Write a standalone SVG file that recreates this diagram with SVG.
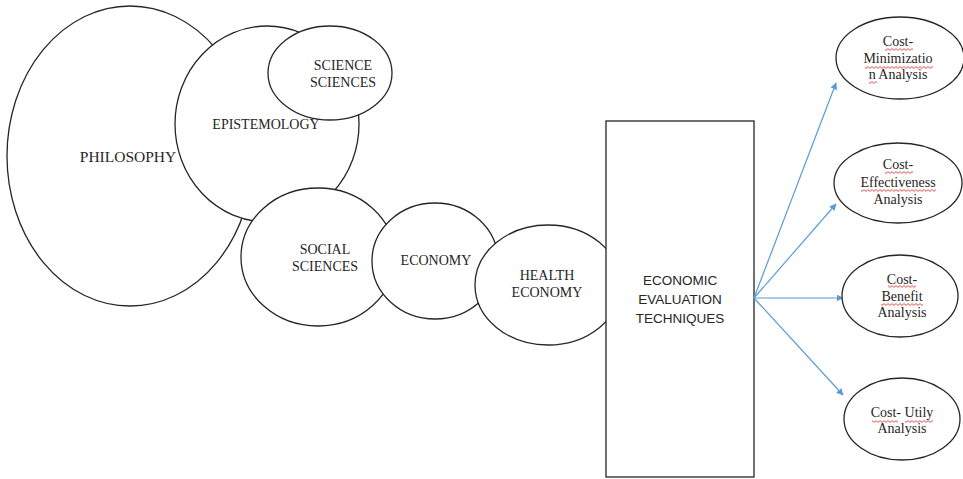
<svg xmlns="http://www.w3.org/2000/svg" width="963" height="479" viewBox="0 0 963 479">
<style>
.n{fill:#fff;stroke:#262626;stroke-width:1.3}
.t{font-family:"Liberation Serif","Times New Roman",serif;font-size:14px;fill:#262626;text-anchor:middle}
.s{font-family:"Liberation Sans",Arial,sans-serif;font-size:13.5px;fill:#262626;text-anchor:middle}
.c{stroke:#5B9BD5;stroke-width:1.2;fill:none;marker-end:url(#ah)}
.sq{fill:url(#zz)}
</style>
<defs>
<marker id="ah" viewBox="0 0 10 10" refX="9" refY="5" markerWidth="7" markerHeight="7" markerUnits="userSpaceOnUse" orient="auto">
<path d="M0 0 L10 5 L0 10 Z" fill="#5B9BD5"/>
</marker>
<pattern id="zz" width="4" height="3" patternUnits="userSpaceOnUse">
<path d="M0 0.6 L2 2.4 L4 0.6" stroke="#e02020" stroke-width="0.8" fill="none"/>
</pattern>
</defs>
<rect width="963" height="479" fill="#fff"/>
<g id="philosophy"><ellipse class="n" cx="130" cy="156" rx="123" ry="150"/><text class="t" x="128" y="162" style="font-size:15.5px">PHILOSOPHY</text></g>
<g id="epistemology"><ellipse class="n" cx="267" cy="124" rx="92" ry="98"/><text class="t" x="266" y="129">EPISTEMOLOGY</text></g>
<g id="science"><ellipse class="n" cx="330" cy="73" rx="62" ry="47"/><text class="t" x="343" y="70">SCIENCE</text><text class="t" x="343" y="87">SCIENCES</text></g>
<g id="social"><ellipse class="n" cx="318" cy="257" rx="77" ry="69"/><text class="t" x="325" y="254">SOCIAL</text><text class="t" x="325" y="271">SCIENCES</text></g>
<g id="economy"><ellipse class="n" cx="435" cy="261" rx="63" ry="58"/><text class="t" x="436" y="265">ECONOMY</text></g>
<g id="health"><ellipse class="n" cx="548" cy="285" rx="73" ry="60"/><text class="t" x="547" y="280">HEALTH</text><text class="t" x="547" y="297">ECONOMY</text></g>
<g id="techniques"><rect class="n" x="606" y="121" width="148" height="356"/><text class="s" x="680" y="285">ECONOMIC</text><text class="s" x="680" y="304">EVALUATION</text><text class="s" x="680" y="323">TECHNIQUES</text></g>
<g id="connectors">
<line class="c" x1="754" y1="298" x2="836" y2="83"/>
<line class="c" x1="754" y1="298" x2="836" y2="204"/>
<line class="c" x1="754" y1="298" x2="843" y2="298"/>
<line class="c" x1="754" y1="298" x2="843" y2="395"/>
</g>
<g id="cma"><ellipse class="n" cx="900" cy="58" rx="64" ry="41"/><text class="t" x="898" y="46">Cost-</text><text class="t" x="898" y="63">Minimizatio</text><text class="t" x="898" y="79">n Analysis</text>
<rect class="sq" x="885" y="48" width="28" height="3"/><rect class="sq" x="865" y="66" width="68" height="3"/><rect class="sq" x="869" y="81" width="8" height="3"/></g>
<g id="cea"><ellipse class="n" cx="898" cy="183" rx="64" ry="40"/><text class="t" x="898" y="169">Cost-</text><text class="t" x="898" y="187">Effectiveness</text><text class="t" x="898" y="204">Analysis</text>
<rect class="sq" x="885" y="171" width="28" height="3"/><rect class="sq" x="861" y="189" width="75" height="3"/></g>
<g id="cba"><ellipse class="n" cx="900" cy="296" rx="58" ry="41"/><text class="t" x="902" y="284">Cost-</text><text class="t" x="902" y="301">Benefit</text><text class="t" x="902" y="317">Analysis</text>
<rect class="sq" x="888" y="285" width="28" height="3"/><rect class="sq" x="881" y="303" width="42" height="3"/></g>
<g id="cua"><ellipse class="n" cx="902" cy="419" rx="58" ry="41"/><text class="t" x="902" y="417">Cost- Utily</text><text class="t" x="902" y="433">Analysis</text>
<rect class="sq" x="872" y="420" width="26" height="3"/><rect class="sq" x="905" y="420" width="28" height="3"/></g>
</svg>
